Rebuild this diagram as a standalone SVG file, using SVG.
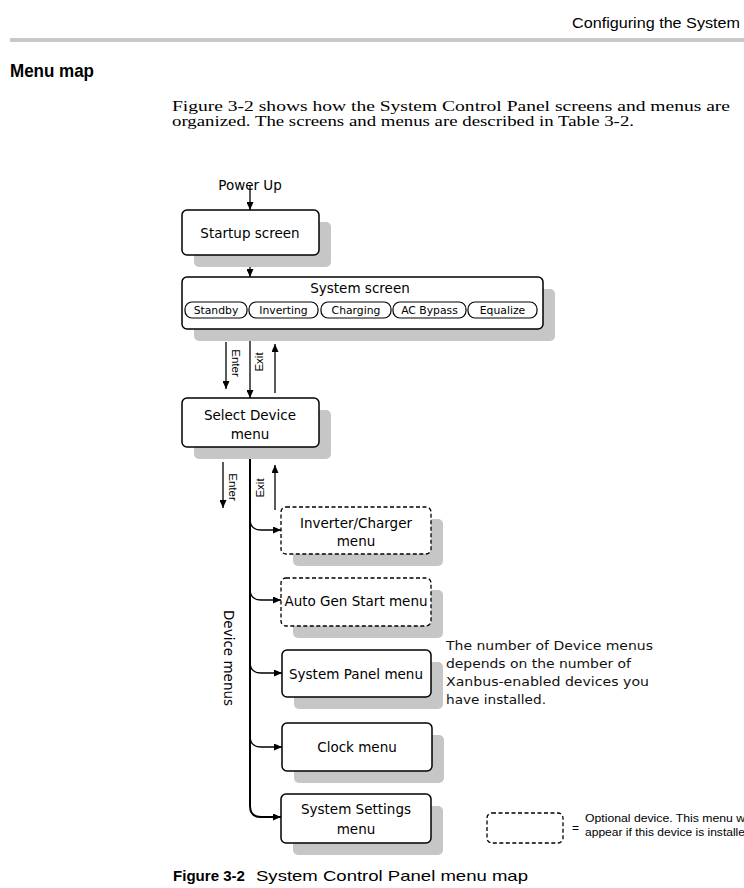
<svg xmlns="http://www.w3.org/2000/svg" width="744" height="888" viewBox="0 0 744 888">
<style>
.box{fill:#fff;stroke:#000;stroke-width:1.5}
.dash{fill:#fff;stroke:#000;stroke-width:1.3;stroke-dasharray:4 2.5}
.shadow{fill:#c6c6c6}
.pill{fill:#fff;stroke:#000;stroke-width:1.2}
.lbl{font-family:"DejaVu Sans",Verdana,sans-serif;font-size:13.5px;fill:#000;text-anchor:middle}
.plbl{font-family:"DejaVu Sans",Verdana,sans-serif;font-size:10.8px;fill:#000;text-anchor:middle}
.cond{font-family:"Liberation Sans",Arial,sans-serif;font-size:11.5px;fill:#000;text-anchor:middle}
.conn{fill:none;stroke:#000;stroke-width:1.3}
.main{fill:none;stroke:#000;stroke-width:2}
.note{font-family:"DejaVu Sans",Verdana,sans-serif;font-size:12px;fill:#111}
</style>
<defs>
<marker id="ah" viewBox="0 0 8 7" markerWidth="8" markerHeight="7" refX="8" refY="3.5" orient="auto-start-reverse" markerUnits="userSpaceOnUse">
<path d="M0,0 L8,3.5 L0,7 z" fill="#000"/>
</marker>
</defs>
<rect width="744" height="888" fill="#fff"/>
<!-- page header -->
<text x="572" y="28" font-family="'Liberation Sans',Arial,sans-serif" font-size="14" textLength="168" lengthAdjust="spacingAndGlyphs">Configuring the System</text>
<rect x="10" y="38" width="734" height="4" fill="#c8c8c8"/>
<text x="10" y="77" font-family="'Liberation Sans',Arial,sans-serif" font-size="19" font-weight="bold" textLength="84" lengthAdjust="spacingAndGlyphs">Menu map</text>
<text x="172" y="111" font-family="'Liberation Serif','Times New Roman',serif" font-size="14" textLength="558" lengthAdjust="spacingAndGlyphs">Figure 3-2 shows how the System Control Panel screens and menus are</text>
<text x="172" y="126" font-family="'Liberation Serif','Times New Roman',serif" font-size="14" textLength="462" lengthAdjust="spacingAndGlyphs">organized. The screens and menus are described in Table 3-2.</text>

<text x="250" y="190" class="lbl" font-size="13">Power Up</text>

<g id="connectors">
<line class="conn" x1="250" y1="186" x2="250" y2="210" marker-end="url(#ah)"/>
<line class="conn" x1="250" y1="255" x2="250" y2="277" marker-end="url(#ah)"/>
<line class="conn" x1="226" y1="342" x2="226" y2="389" marker-end="url(#ah)"/>
<line class="conn" x1="250" y1="329" x2="250" y2="398" marker-start="url(#ah)" marker-end="url(#ah)"/>
<line class="conn" x1="275" y1="393" x2="275" y2="344" marker-end="url(#ah)"/>
<line class="conn" x1="223" y1="462" x2="223" y2="508" marker-end="url(#ah)"/>
<line class="conn" x1="275" y1="510" x2="275" y2="465" marker-end="url(#ah)"/>
<path class="main" d="M250,447 L250,806 Q250,817 261,817 L281,817" marker-start="url(#ah)" marker-end="url(#ah)"/>
<path class="conn" d="M250,519 Q250,530 261,530 L281,530" marker-end="url(#ah)"/>
<path class="conn" d="M250,589 Q250,600 261,600 L281,600" marker-end="url(#ah)"/>
<path class="conn" d="M250,662 Q250,673 261,673 L282,673" marker-end="url(#ah)"/>
<path class="conn" d="M250,736 Q250,747 261,747 L282,747" marker-end="url(#ah)"/>
<text class="cond" transform="translate(236,363) rotate(90)" dy="4">Enter</text>
<text class="cond" transform="translate(259,362) rotate(-90)" dy="4">Exit</text>
<text class="cond" transform="translate(233,487) rotate(90)" dy="4">Enter</text>
<text class="cond" transform="translate(260,488) rotate(-90)" dy="4">Exit</text>
<text class="lbl" font-size="13" transform="translate(228,658) rotate(90)" dy="4">Device menus</text>
</g>

<g id="startup">
<rect class="shadow" x="194" y="222" width="137" height="45" rx="5"/>
<rect class="box" x="182" y="210" width="137" height="45" rx="5"/>
<text class="lbl" x="250" y="238">Startup screen</text>
</g>

<g id="system">
<rect class="shadow" x="194" y="289" width="361" height="52" rx="5"/>
<rect class="box" x="182" y="277" width="361" height="52" rx="5"/>
<text class="lbl" x="360" y="293" font-size="13">System screen</text>
<rect class="pill" x="185" y="302" width="62" height="16" rx="7"/>
<text class="plbl" x="216" y="314">Standby</text>
<rect class="pill" x="249" y="302" width="69" height="16" rx="7"/>
<text class="plbl" x="283.5" y="314">Inverting</text>
<rect class="pill" x="321" y="302" width="70" height="16" rx="7"/>
<text class="plbl" x="356" y="314">Charging</text>
<rect class="pill" x="393" y="302" width="73" height="16" rx="7"/>
<text class="plbl" x="429.5" y="314">AC Bypass</text>
<rect class="pill" x="468" y="302" width="69" height="16" rx="7"/>
<text class="plbl" x="502.5" y="314">Equalize</text>
</g>

<g id="select-device">
<rect class="shadow" x="194" y="410" width="137" height="49" rx="5"/>
<rect class="box" x="182" y="398" width="137" height="49" rx="5"/>
<text class="lbl" x="250" y="420">Select Device</text>
<text class="lbl" x="250" y="439">menu</text>
</g>

<g id="inverter-charger">
<rect class="shadow" x="293" y="519" width="150" height="47" rx="5"/>
<rect class="dash" x="281" y="507" width="150" height="47" rx="5"/>
<text class="lbl" x="356" y="528">Inverter/Charger</text>
<text class="lbl" x="356" y="546">menu</text>
</g>

<g id="auto-gen-start">
<rect class="shadow" x="293" y="590" width="150" height="48" rx="5"/>
<rect class="dash" x="281" y="578" width="150" height="48" rx="5"/>
<text class="lbl" x="356" y="606">Auto Gen Start menu</text>
</g>

<g id="system-panel">
<rect class="shadow" x="294" y="662" width="149" height="47" rx="5"/>
<rect class="box" x="282" y="650" width="149" height="47" rx="5"/>
<text class="lbl" x="356" y="679">System Panel menu</text>
</g>

<g id="clock">
<rect class="shadow" x="294" y="735" width="150" height="48" rx="5"/>
<rect class="box" x="282" y="723" width="150" height="48" rx="5"/>
<text class="lbl" x="357" y="752">Clock menu</text>
</g>

<g id="system-settings">
<rect class="shadow" x="293" y="806" width="150" height="49" rx="5"/>
<rect class="box" x="281" y="794" width="150" height="49" rx="5"/>
<text class="lbl" x="356" y="814">System Settings</text>
<text class="lbl" x="356" y="834">menu</text>
</g>

<g id="note">
<text class="note" x="446" y="650" textLength="207" lengthAdjust="spacingAndGlyphs">The number of Device menus</text>
<text class="note" x="446" y="668" textLength="185" lengthAdjust="spacingAndGlyphs">depends on the number of</text>
<text class="note" x="446" y="686" textLength="203" lengthAdjust="spacingAndGlyphs">Xanbus-enabled devices you</text>
<text class="note" x="446" y="704" textLength="100" lengthAdjust="spacingAndGlyphs">have installed.</text>
</g>

<g id="legend">
<rect class="dash" x="487" y="813" width="76" height="30" rx="5" fill="none"/>
<text x="572" y="832" font-family="'Liberation Sans',Arial,sans-serif" font-size="12">=</text>
<text x="585" y="822" font-family="'Liberation Sans',Arial,sans-serif" font-size="10" textLength="160" lengthAdjust="spacingAndGlyphs">Optional device. This menu w</text>
<text x="585" y="836" font-family="'Liberation Sans',Arial,sans-serif" font-size="10" textLength="160" lengthAdjust="spacingAndGlyphs">appear if this device is installe</text>
</g>

<text x="173" y="881" font-family="'Liberation Sans',Arial,sans-serif" font-size="15"><tspan font-weight="bold" textLength="72" lengthAdjust="spacingAndGlyphs">Figure 3-2</tspan><tspan x="256" textLength="272" lengthAdjust="spacingAndGlyphs">System Control Panel menu map</tspan></text>
</svg>
